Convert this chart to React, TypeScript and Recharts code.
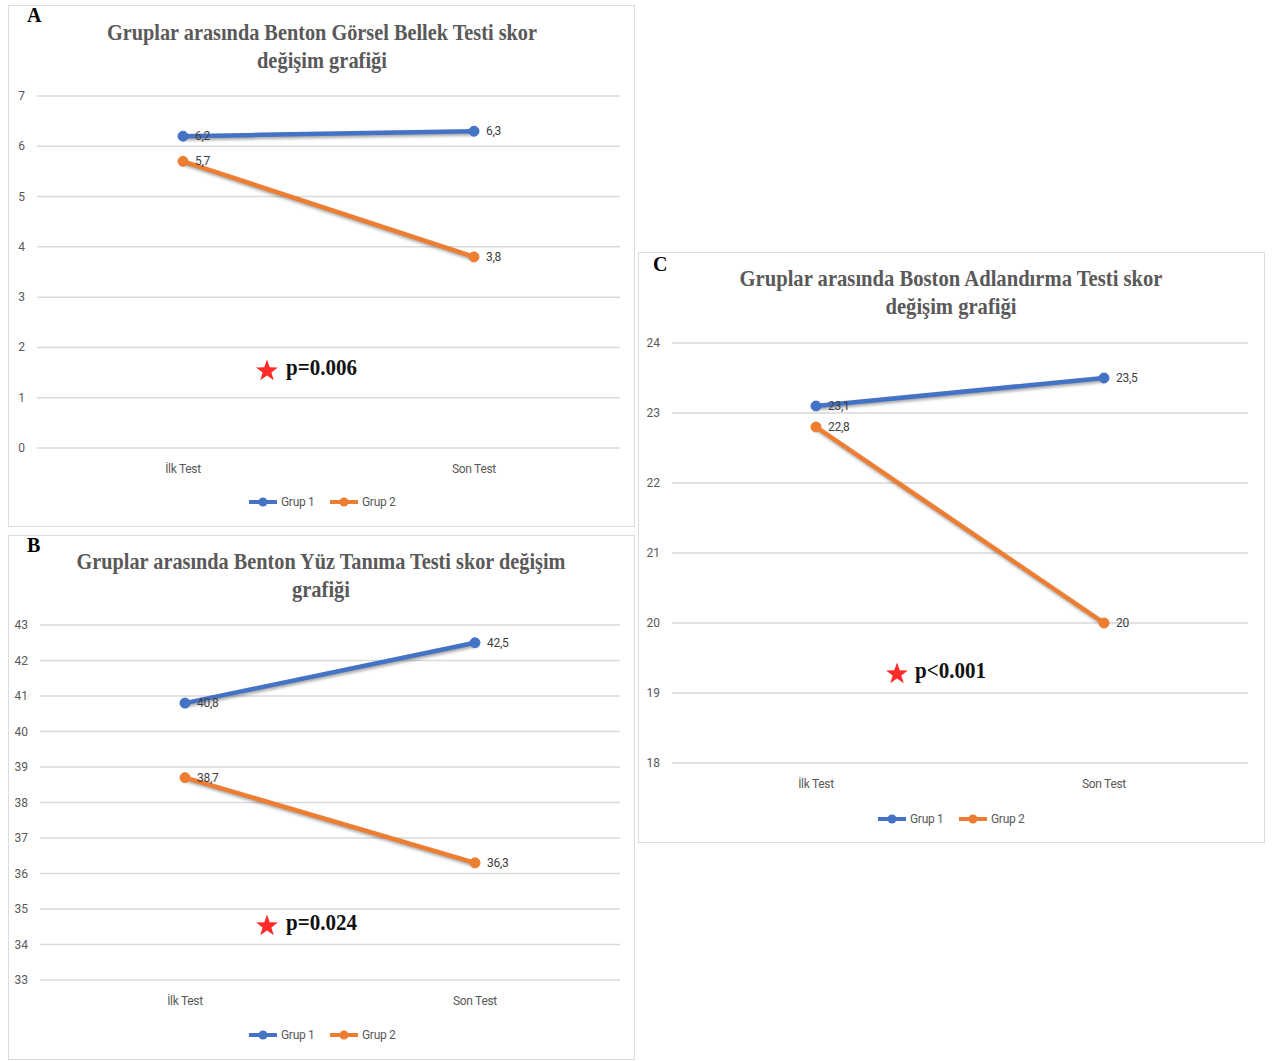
import React from 'react';
import { LineChart, Line, XAxis, YAxis, CartesianGrid, LabelList } from 'recharts';

const categories = ['İlk Test', 'Son Test'];
const seriesNames = ['Grup 1', 'Grup 2'];

const bentonGorselGrup1 = [6.2, 6.3];
const bentonGorselGrup2 = [5.7, 3.8];
const bentonYuzGrup1 = [40.8, 42.5];
const bentonYuzGrup2 = [38.7, 36.3];
const bostonGrup1 = [23.1, 23.5];
const bostonGrup2 = [22.8, 20];

const ticksA = [0, 1, 2, 3, 4, 5, 6, 7];
const ticksB = [33, 34, 35, 36, 37, 38, 39, 40, 41, 42, 43];
const ticksC = [18, 19, 20, 21, 22, 23, 24];

const titleA = ['Gruplar arasında Benton Görsel Bellek Testi skor', 'değişim grafiği'];
const titleB = ['Gruplar arasında Benton Yüz Tanıma Testi skor değişim', 'grafiği'];
const titleC = ['Gruplar arasında Boston Adlandırma Testi skor', 'değişim grafiği'];
const pValues = ['p=0.006', 'p=0.024', 'p<0.001'];
const letters = ['A', 'B', 'C'];

const BLUE = '#4472C4';
const ORANGE = '#ED7D31';
const NARROW = '"Liberation Sans Narrow", "Arial Narrow", "Roboto", sans-serif';
const SERIF = '"Liberation Serif", "Times New Roman", serif';

type Box = { x: number; y: number; w: number; h: number };
type Plot = { left: number; top: number; right: number; bottom: number };

interface PanelCfg {
  box: Box;
  plot: Plot;
  g1: number[];
  g2: number[];
  ticks: number[];
  title: string[];
  titleWidths: number[];
  titleBase: number[];
  titleCx: number;
  letter: string;
  letterPos: [number, number];
  pValue: string;
  starPos: [number, number];
  pPos: [number, number];
  pWidth: number;
  legendY: number;
  legendX: number;
}

const panels: PanelCfg[] = [
  {
    box: { x: 8, y: 5, w: 627, h: 522 },
    plot: { left: 37, top: 96, right: 620, bottom: 448 },
    g1: bentonGorselGrup1,
    g2: bentonGorselGrup2,
    ticks: ticksA,
    title: titleA,
    titleWidths: [430, 130],
    titleBase: [40, 68],
    titleCx: 322,
    letter: letters[0],
    letterPos: [27, 22],
    pValue: pValues[0],
    starPos: [267, 371],
    pPos: [286, 375],
    pWidth: 71,
    legendY: 502,
    legendX: 249,
  },
  {
    box: { x: 8, y: 535, w: 627, h: 525 },
    plot: { left: 40, top: 625, right: 620, bottom: 980 },
    g1: bentonYuzGrup1,
    g2: bentonYuzGrup2,
    ticks: ticksB,
    title: titleB,
    titleWidths: [489, 58],
    titleBase: [569, 597],
    titleCx: 321,
    letter: letters[1],
    letterPos: [27, 552],
    pValue: pValues[1],
    starPos: [267, 926],
    pPos: [286, 930],
    pWidth: 71,
    legendY: 1035,
    legendX: 249,
  },
  {
    box: { x: 638, y: 252, w: 627, h: 591 },
    plot: { left: 672, top: 343, right: 1248, bottom: 763 },
    g1: bostonGrup1,
    g2: bostonGrup2,
    ticks: ticksC,
    title: titleC,
    titleWidths: [423, 131],
    titleBase: [286, 314],
    titleCx: 951,
    letter: letters[2],
    letterPos: [653, 271],
    pValue: pValues[2],
    starPos: [897, 674],
    pPos: [915, 678],
    pWidth: 71,
    legendY: 819,
    legendX: 878,
  },
];

function starPoints(cx: number, cy: number, R: number, r: number) {
  const pts: string[] = [];
  for (let i = 0; i < 10; i++) {
    const rad = i % 2 === 0 ? R : r;
    const a = -Math.PI / 2 + (i * Math.PI) / 5;
    pts.push(`${cx + rad * Math.cos(a)},${cy + rad * Math.sin(a)}`);
  }
  return pts.join(' ');
}

const fmt = (v: any) => String(v).replace('.', ',');

function Panel({ cfg }: { cfg: PanelCfg }) {
  const { box, plot } = cfg;
  const data = categories.map((c, i) => ({ name: c, g1: cfg.g1[i], g2: cfg.g2[i] }));
  const yAxisW = plot.left - box.x;
  const marginTop = plot.top - box.y;
  const marginRight = box.x + box.w - plot.right;
  const xAxisH = 30;
  const marginBottom = box.y + box.h - plot.bottom - xAxisH;
  const plotW = plot.right - plot.left;
  const pad = Math.round(plotW / 4);
  const domain: [number, number] = [cfg.ticks[0], cfg.ticks[cfg.ticks.length - 1]];

  const label = (props: any) => {
    const { x, y, value } = props;
    return (
      <text x={x + 12} y={y + 4} fill="#404040" fontSize={12} fontFamily={NARROW} letterSpacing={-0.3}>
        {fmt(value)}
      </text>
    );
  };

  return (
    <div
      style={{
        position: 'absolute',
        left: box.x,
        top: box.y,
        width: box.w,
        height: box.h,
        boxSizing: 'border-box',
        border: '1.5px solid #dcdcdc',
        background: '#fff',
      }}
    >
      <div style={{ position: 'absolute', left: -1.5, top: -1.5 }}>
        <LineChart
          width={box.w}
          height={box.h}
          data={data}
          margin={{ top: marginTop, right: marginRight, left: 0, bottom: marginBottom }}
        >
          <CartesianGrid vertical={false} stroke="#d9d9d9" strokeWidth={1.5} />
          <XAxis
            dataKey="name"
            type="category"
            height={xAxisH}
            axisLine={false}
            tickLine={false}
            padding={{ left: pad, right: pad }}
            interval={0}
            tick={(p: any) => (
              <text
                x={p.x}
                y={p.y + 17}
                textAnchor="middle"
                fill="#595959"
                fontSize={12}
                fontFamily={NARROW}
                letterSpacing={-0.3}
              >
                {p.payload.value}
              </text>
            )}
          />
          <YAxis
            width={yAxisW}
            domain={domain}
            ticks={cfg.ticks}
            interval={0}
            axisLine={false}
            tickLine={false}
            tick={(p: any) => (
              <text
                x={yAxisW - 12}
                y={p.y + 4}
                textAnchor="end"
                fill="#595959"
                fontSize={12}
                fontFamily={NARROW}
              >
                {p.payload.value}
              </text>
            )}
          />
          <Line
            dataKey="g1"
            name={seriesNames[0]}
            stroke={BLUE}
            strokeWidth={4.5}
            dot={{ r: 5, fill: BLUE, stroke: BLUE, strokeWidth: 1 }}
            isAnimationActive={false}
          >
            <LabelList dataKey="g1" content={label} />
          </Line>
          <Line
            dataKey="g2"
            name={seriesNames[1]}
            stroke={ORANGE}
            strokeWidth={4.5}
            dot={{ r: 5, fill: ORANGE, stroke: ORANGE, strokeWidth: 1 }}
            isAnimationActive={false}
          >
            <LabelList dataKey="g2" content={label} />
          </Line>
        </LineChart>
      </div>
    </div>
  );
}

function Overlay() {
  return (
    <svg
      width={1285}
      height={1061}
      style={{ position: 'absolute', left: 0, top: 0, pointerEvents: 'none' }}
    >
      {panels.map((cfg, i) => (
        <g key={i}>
          <text
            x={cfg.letterPos[0]}
            y={cfg.letterPos[1]}
            fontFamily={SERIF}
            fontWeight="bold"
            fontSize={20}
            fill="#000"
          >
            {cfg.letter}
          </text>
          {cfg.title.map((t, j) => (
            <text
              key={j}
              x={cfg.titleCx}
              y={cfg.titleBase[j]}
              textAnchor="middle"
              fontFamily={SERIF}
              fontWeight="bold"
              fontSize={23}
              fill="#595959"
              textLength={cfg.titleWidths[j]}
              lengthAdjust="spacingAndGlyphs"
            >
              {t}
            </text>
          ))}
          <polygon points={starPoints(cfg.starPos[0], cfg.starPos[1], 11.5, 4.6)} fill="#FF2B2B" />
          <text
            x={cfg.pPos[0]}
            y={cfg.pPos[1]}
            fontFamily={SERIF}
            fontWeight="bold"
            fontSize={23}
            fill="#111"
            textLength={cfg.pWidth}
            lengthAdjust="spacingAndGlyphs"
          >
            {cfg.pValue}
          </text>
          {[BLUE, ORANGE].map((c, k) => {
            const x0 = cfg.legendX + k * 81;
            return (
              <g key={k}>
                <line x1={x0} y1={cfg.legendY} x2={x0 + 28} y2={cfg.legendY} stroke={c} strokeWidth={4} />
                <circle cx={x0 + 14} cy={cfg.legendY} r={4.5} fill={c} />
                <text
                  x={x0 + 32}
                  y={cfg.legendY + 4}
                  fontFamily={NARROW}
                  fontSize={12}
                  fill="#595959"
                  letterSpacing={-0.3}
                >
                  {seriesNames[k]}
                </text>
              </g>
            );
          })}
        </g>
      ))}
    </svg>
  );
}

export default function App() {
  return (
    <div style={{ position: 'absolute', left: 0, top: 0, width: 1285, height: 1061, background: '#fff' }}>
      <style>{`.recharts-line-curve { filter: drop-shadow(1px 2px 1.5px rgba(0,0,0,0.35)); }`}</style>
      {panels.map((cfg, i) => (
        <Panel key={i} cfg={cfg} />
      ))}
      <Overlay />
    </div>
  );
}
